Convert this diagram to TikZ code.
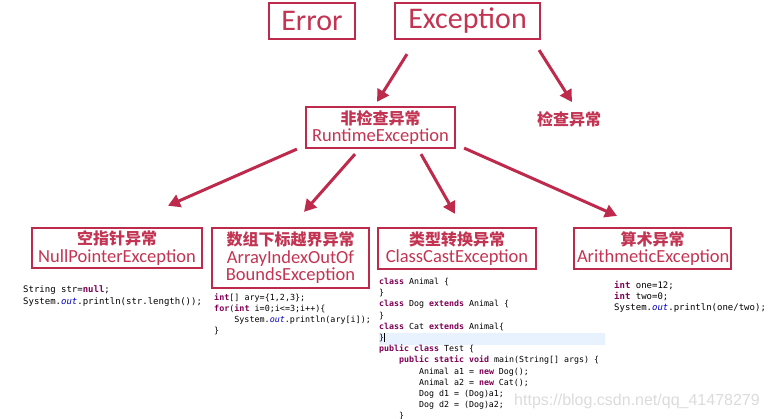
\documentclass[tikz,border=0pt]{standalone}
\usepackage{fontspec}
\setmainfont{Carlito}
\newfontfamily\cjk{Noto Sans CJK SC}
\newfontfamily\codefont{DejaVu Sans Mono}
\newfontfamily\markfont{Liberation Sans}
\usetikzlibrary{arrows.meta,positioning,calc}
\definecolor{boxred}{HTML}{BE2A4C}
\definecolor{txtred}{HTML}{C23452}
\definecolor{kwpurple}{HTML}{7F0055}
\definecolor{fldblue}{HTML}{0000C0}
\definecolor{hlblue}{HTML}{E8F2FE}
\newcommand{\kw}[1]{\textcolor{kwpurple}{\bfseries #1}}
\newcommand{\fld}[1]{\textcolor{fldblue}{\itshape #1}}
\newcommand{\ind}{\hspace*{2.4em}}
\newcommand{\zh}[1]{{\cjk\bfseries\fontsize{16}{17.5}\selectfont #1}}

\begin{document}
\begin{tikzpicture}[x=1pt, y=-1pt, >={Triangle[length=12pt,width=13pt]},
  exbox/.style={draw=boxred, line width=2.2pt, text=txtred, align=center, inner sep=3pt},
  tip/.style={->, draw=boxred, line width=3pt},
  code/.style={anchor=north west, align=left, inner sep=0pt, text=black}]
  \useasboundingbox (0,0) rectangle (770,418);

  % Top row: Error / Exception
  \node[exbox, minimum width=86pt, minimum height=36pt, font=\fontsize{30}{32}\selectfont] (err) at (312,21) {Error};
  \node[exbox, minimum width=145pt, minimum height=36pt, font=\fontsize{30}{32}\selectfont] (exc) at (467.5,21) {Exception};

  % Middle row
  \node[exbox, minimum width=149pt, minimum height=41pt, font=\fontsize{18.5}{17.5}\selectfont] (rte) at (380.5,127.5) {\zh{非检查异常}\\RuntimeException};
  \node[text=txtred, inner sep=0pt] (chk) at (569,119) {\zh{检查异常}};

  % Bottom row
  \node[exbox, text width=164pt, minimum height=40pt, font=\fontsize{18.5}{17.5}\selectfont] (npe) at (117,248) {\zh{空指针异常}\\NullPointerException};
  \node[exbox, text width=151pt, minimum height=60pt, font=\fontsize{18.5}{17.5}\selectfont] (aio) at (290.5,258) {\zh{数组下标越界异常}\\ArrayIndexOutOf\\BoundsException};
  \node[exbox, text width=152pt, minimum height=41pt, font=\fontsize{18.5}{17.5}\selectfont] (cce) at (457,248.5) {\zh{类型转换异常}\\ClassCastException};
  \node[exbox, text width=151pt, minimum height=41pt, font=\fontsize{18.5}{17.5}\selectfont] (are) at (652.5,248.5) {\zh{算术异常}\\ArithmeticException};

  % Arrows
  \draw[tip] ([xshift=-60.5pt,yshift=-14pt]exc.south) -- ([xshift=-3.5pt,yshift=4pt]rte.north);
  \draw[tip] ([xshift=-2pt,yshift=-10pt]exc.south east) -- ([xshift=3pt,yshift=9pt]chk.north);
  \draw[tip] ([xshift=-8pt]rte.south west) -- ([xshift=51pt,yshift=21pt]npe.north);
  \draw[tip] ([xshift=-25.5pt,yshift=-5pt]rte.south) -- ([xshift=13.5pt,yshift=15pt]aio.north);
  \draw[tip] ([xshift=40.5pt,yshift=-5pt]rte.south) -- ([xshift=-2pt,yshift=13pt]cce.north);
  \draw[tip] ([xshift=8pt,yshift=1pt]rte.south east) -- ([xshift=-35.5pt,yshift=11pt]are.north);

  % Code samples
  \fill[hlblue] (379,333) rectangle (605,345);
  \node[code, font=\codefont\fontsize{9}{12}\selectfont] (npecode) at (23,285) {String str=\kw{null};\\System.\fld{out}.println(str.length());};
  \node[code, font=\codefont\fontsize{8.4}{11.3}\selectfont] (aiocode) at (214,293) {\kw{int}[] ary=\{1,2,3\};\\\kw{for}(\kw{int} i=0;i<=3;i++)\{\\\ind System.\fld{out}.println(ary[i]);\\\}};
  \node[code, font=\codefont\fontsize{8.3}{11.2}\selectfont] (ccecode) at (379,278) {\kw{class} Animal \{\\\}\\\kw{class} Dog \kw{extends} Animal \{\\\}\\\kw{class} Cat \kw{extends} Animal\{\\\}\rule[-1.5pt]{0.6pt}{9pt}\\\kw{public class} Test \{\\\ind\kw{public static void} main(String[] args) \{\\\ind\ind Animal a1 = \kw{new} Dog();\\\ind\ind Animal a2 = \kw{new} Cat();\\\ind\ind Dog d1 = (Dog)a1;\\\ind\ind Dog d2 = (Dog)a2;\\\ind\}};
  \node[code, font=\codefont\fontsize{9}{11}\selectfont] (arecode) at (614,281) {\kw{int} one=12;\\\kw{int} two=0;\\System.\fld{out}.println(one/two);};

  % Watermark
  \node[text=gray!28, font=\markfont\fontsize{16}{16}\selectfont, inner sep=0pt] (wm) at (637,401) {https://blog.csdn.net/qq\_41478279};
\end{tikzpicture}
\end{document}
